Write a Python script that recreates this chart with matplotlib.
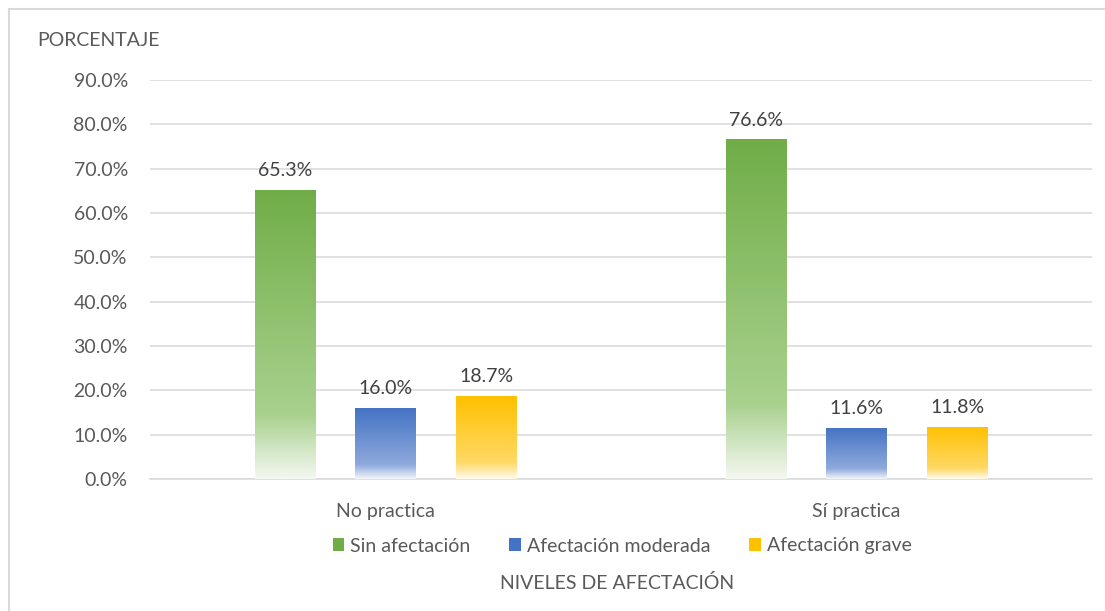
import numpy as np
import matplotlib
matplotlib.use("Agg")
import matplotlib.pyplot as plt
from matplotlib.colors import LinearSegmentedColormap
from matplotlib.patches import Rectangle
from matplotlib.lines import Line2D

categories = ["No practica", "Sí practica"]
series = ["Sin afectación", "Afectación moderada", "Afectación grave"]
sin_afectacion = [65.3, 76.6]
afectacion_moderada = [16.0, 11.6]
afectacion_grave = [18.7, 11.8]
values = [sin_afectacion, afectacion_moderada, afectacion_grave]
yticks = [0, 10, 20, 30, 40, 50, 60, 70, 80, 90]

base_colors = ["#70AD47", "#4472C4", "#FFC000"]
mid_colors = ["#A9D18E", "#8FAADC", "#FFD966"]
end_colors = ["#F4F8F1", "#F3F6FB", "#FFFBF0"]
stops = [0.78, 0.80, 0.80]

plt.rcParams['font.family'] = ['Lato', 'DejaVu Sans']
txt = "#595959"
fs = 14

fig = plt.figure(figsize=(11.05, 6.11), dpi=100)
ax = fig.add_axes([150/1105, 1-479/611, (1092-150)/1105, (479-80)/611])

x = np.arange(len(categories))
width = 0.128
offsets = [-0.214, 0.0, 0.214]

ax.set_xlim(-0.5, 1.5)
ax.set_ylim(0, 90)

grad = np.linspace(0, 1, 256).reshape(-1, 1)
for i, (vals, c0, c1, c2) in enumerate(zip(values, base_colors, mid_colors, end_colors)):
    cmap = LinearSegmentedColormap.from_list(f"g{i}", [(0.0, c0), (stops[i], c1), (1.0, c2)])
    bars = ax.bar(x + offsets[i], vals, width, color="none", edgecolor="none", zorder=3)
    for b, v in zip(bars, vals):
        x0 = b.get_x()
        im = ax.imshow(grad, cmap=cmap, aspect="auto", extent=[x0, x0 + width, 0, v],
                       origin="upper", zorder=3, interpolation="bilinear")
        im.set_clip_path(b)
        ax.text(x0 + width / 2, v + 2.4, f"{v:.1f}%", ha="center", va="bottom",
                fontsize=fs, color="#404040", zorder=4)

ax.set_yticks(yticks)
ax.set_yticklabels([f"{t:.1f}%" for t in yticks], fontsize=fs, color=txt)
ax.set_xticks(x)
ax.set_xticklabels(categories, fontsize=fs, color=txt)
ax.tick_params(axis="both", length=0)
ax.tick_params(axis="y", pad=16)
ax.tick_params(axis="x", pad=17)
ax.grid(axis="y", color="#D9D9D9", linewidth=1.1, zorder=0)
ax.set_axisbelow(True)
for s in ["top", "right", "left"]:
    ax.spines[s].set_visible(False)
ax.spines["bottom"].set_color("#D9D9D9")
ax.spines["bottom"].set_linewidth(1.1)

fig.text(37/1105, 1-41/611, "PORCENTAJE", fontsize=fs, color=txt, va="center", ha="left")
fig.text(617/1105, 1-583/611, "NIVELES DE AFECTACIÓN", fontsize=fs, color=txt, va="center", ha="center")

handles = [Rectangle((0, 0), 1, 1, facecolor=c, edgecolor="none") for c in base_colors]
fig.legend(handles, series, loc="center", bbox_to_anchor=(622/1105, 1-546/611), ncol=3,
           frameon=False, fontsize=fs, labelcolor=txt, handlelength=0.6, handleheight=0.6,
           handletextpad=0.3, columnspacing=2.0)

fig.add_artist(Line2D([9/1105, 9/1105], [0, 1-9/611], color="#D9D9D9", linewidth=1.5, transform=fig.transFigure))
fig.add_artist(Line2D([9/1105, 1], [1-9/611, 1-9/611], color="#D9D9D9", linewidth=1.5, transform=fig.transFigure))

fig.savefig("out.png", dpi=100)
